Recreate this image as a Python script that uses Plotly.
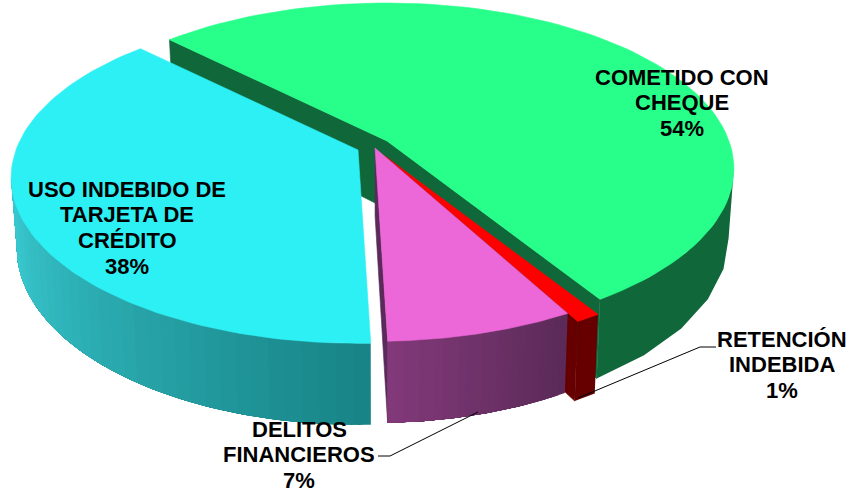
import numpy as np
import plotly.graph_objects as go

# --- data ---
categories = [["COMETIDO CON", "CHEQUE"], ["RETENCIÓN", "INDEBIDA"], ["DELITOS", "FINANCIEROS"], ["USO INDEBIDO DE", "TARJETA DE", "CRÉDITO"]]
values = [53.6, 1.0, 7.49, 37.91]

# --- styling ---
top_colors = ["#27FF8A", "#FF0000", "#EC68D8", "#2DF0F5"]
inner_colors = ["#10683A", "#660000", "#5A2A5A", "#178080"]
wall_from = ["#10683A", "#660000", "#5A2A57", "#178386"]
wall_to = ["#10683A", "#660000", "#82397A", "#3CCFD6"]
apex_x = [387, 385, 375, 358]
apex_y = [141, 156, 148, 150]
label_x = [682, 782, 299, 127]
label_top = [77, 339, 429, 189]
LINE_GAP = 25.8

START = -45.3
RX, RY, P, H, SHRINK, CX = 342.0, 161.0, 0.167, 68.0, 0.985, 380.0
SIDE_RIGHT, SIDE_LEFT = 99.6, 260.4  # where the rim reaches its widest point


def rim(i, deg, low=False):
    t = np.radians(deg)
    X, Y = np.sin(t), np.cos(t)
    w = 1 + P * Y
    x = apex_x[i] + RX * X / w
    y = apex_y[i] - RY * Y / w
    return lower(x, y, w) if low else (x, y)


def lower(x, y, w):
    return CX + (x - CX) * SHRINK, y + H / w


def apex(i, low=False):
    return lower(apex_x[i], apex_y[i], 1.0) if low else (apex_x[i], apex_y[i])


def hex_mix(a, b, f):
    ca = [int(a[k:k + 2], 16) for k in (1, 3, 5)]
    cb = [int(b[k:k + 2], 16) for k in (1, 3, 5)]
    return "#%02x%02x%02x" % tuple(round(u + (v - u) * f) for u, v in zip(ca, cb))


fig = go.Figure()


def poly(xs, ys, color, width=0.6):
    fig.add_trace(go.Scatter(x=list(xs), y=list(ys), mode="lines", fill="toself", fillcolor=color,
                             line=dict(color=color, width=width), hoverinfo="skip", showlegend=False))


def side_wall(i, deg):
    a, al, r, rl = apex(i), apex(i, True), rim(i, deg), rim(i, deg, True)
    poly([a[0], r[0], rl[0], al[0], a[0]], [a[1], r[1], rl[1], al[1], a[1]], inner_colors[i])


def outer_wall(i, d0, d1, n):
    # each band runs on to the far end, so the next band overlaps it and no seams appear
    edges = np.linspace(d0, d1, n + 1)
    for k in range(n):
        arc = np.linspace(edges[k], d1, max(6, 3 * (n - k)))
        up = [rim(i, d) for d in arc]
        lo = [rim(i, d, True) for d in arc[::-1]]
        pts = up + lo + up[:1]
        poly([p[0] for p in pts], [p[1] for p in pts], hex_mix(wall_from[i], wall_to[i], (k + 0.5) / n), 0)


def top_face(i, d0, d1):
    arc = np.linspace(d0, d1, 90)
    pts = [apex(i)] + [rim(i, d) for d in arc] + [apex(i)]
    poly([p[0] for p in pts], [p[1] for p in pts], top_colors[i])


spans = np.array(values) / sum(values) * 360
starts = START + np.concatenate(([0], np.cumsum(spans)[:-1]))
ends = starts + spans

# painter's order: green, red, pink, blue
side_wall(0, starts[0])
side_wall(0, ends[0])
outer_wall(0, SIDE_RIGHT, ends[0], 1)
top_face(0, starts[0], ends[0])

side_wall(1, ends[1])
outer_wall(1, starts[1], ends[1], 1)
top_face(1, starts[1], ends[1])

side_wall(2, ends[2])
outer_wall(2, starts[2], ends[2], 24)
top_face(2, starts[2], ends[2])

outer_wall(3, starts[3], SIDE_LEFT, 34)
top_face(3, starts[3], ends[3])

# leader lines
leader_x = [[716, 700, 578], [378, 390, 478]]
leader_y = [[347, 347, 398], [456, 456, 412]]
for lx, ly in zip(leader_x, leader_y):
    fig.add_trace(go.Scatter(x=lx, y=ly, mode="lines", line=dict(color="#000000", width=1),
                             hoverinfo="skip", showlegend=False))

for name, v, lx, ly in zip(categories, values, label_x, label_top):
    for k, line in enumerate(name + [f"{round(v)}%"]):
        fig.add_annotation(x=lx, y=ly + k * LINE_GAP, xref="x", yref="y", text=f"<b>{line}</b>", showarrow=False,
                           font=dict(family="Liberation Sans, Arial, sans-serif", size=22, color="#000000"))

fig.update_layout(width=850, height=490, margin=dict(l=0, r=0, t=0, b=0), paper_bgcolor="white",
                  plot_bgcolor="white", showlegend=False,
                  xaxis=dict(range=[0, 850], visible=False, fixedrange=True),
                  yaxis=dict(range=[490, 0], visible=False, fixedrange=True))
fig.write_html("out.html", config={"displayModeBar": False},
               post_script="document.body.style.margin='0';document.documentElement.style.overflow='hidden';")
